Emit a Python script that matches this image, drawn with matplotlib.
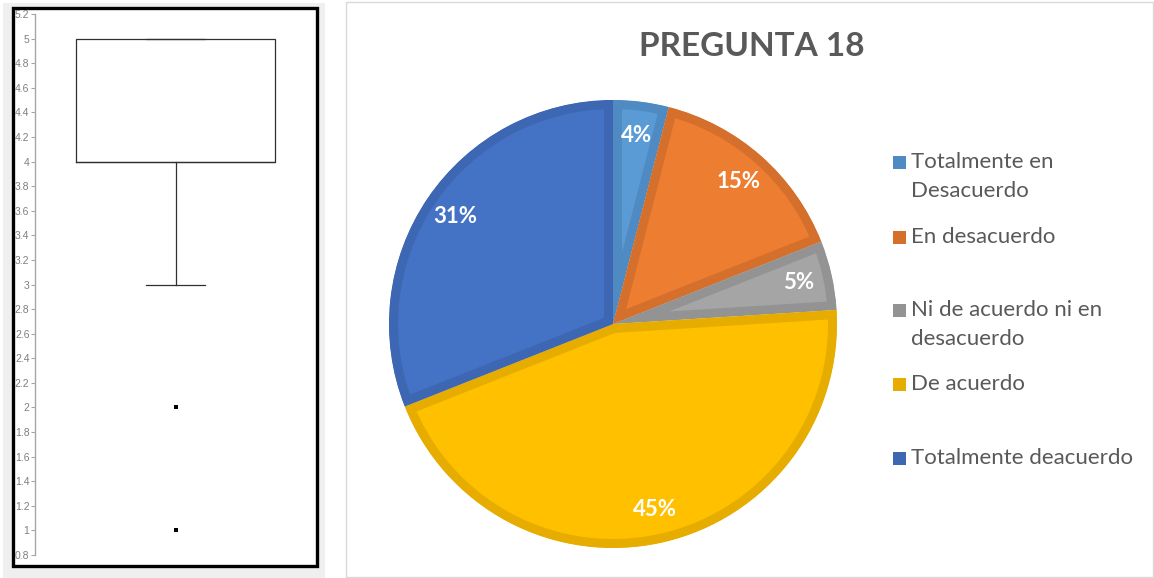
import numpy as np
import matplotlib.pyplot as plt
from matplotlib.patches import Rectangle, Wedge

# Answers to question 18 (1 = totalmente en desacuerdo ... 5 = totalmente de acuerdo)
categories = ['Totalmente en\nDesacuerdo', 'En desacuerdo',
              'Ni de acuerdo ni en\ndesacuerdo', 'De acuerdo',
              'Totalmente deacuerdo']
scores = [1, 2, 3, 4, 5]
percents = [4, 15, 5, 45, 31]

colors = ['#5B9BD5', '#ED7D31', '#A5A5A5', '#FFC000', '#4472C4']
edge_colors = ['#4F8AC2', '#D4702C', '#939393', '#E6AC00', '#3D66B3']

W, H = 1154, 578
fig = plt.figure(figsize=(W / 100, H / 100), dpi=100)


def fx(x):
    return x / W


def fy(y):
    return 1 - y / H


# left panel: gray background and black frame
fig.patches.append(Rectangle((fx(3), 0), fx(325 - 3), (H - 3) / H,
                             transform=fig.transFigure, facecolor='#efefef',
                             edgecolor='none', zorder=-2))
fig.patches.append(Rectangle((fx(13), fy(566)), fx(317 - 13), (566 - 8) / H,
                             transform=fig.transFigure, facecolor='white',
                             edgecolor='black', lw=2.4, zorder=-1))

# right panel: white card with light border
fig.patches.append(Rectangle((fx(346), fy(577)), fx(1153 - 346), (577 - 2) / H,
                             transform=fig.transFigure, facecolor='white',
                             edgecolor='#d9d9d9', lw=1, zorder=-1))

# box plot built from the answers
answers = np.repeat(scores, percents)
ax1 = fig.add_axes([fx(35), fy(555), fx(316 - 35), (555 - 14) / H])
ax1.set_facecolor('none')
ax1.boxplot(answers, positions=[1], widths=0.71, capwidths=0.21,
            boxprops=dict(color='#303030', lw=0.9),
            whiskerprops=dict(color='#303030', lw=0.9),
            capprops=dict(color='#303030', lw=0.9),
            medianprops=dict(color='#303030', lw=0.9),
            flierprops=dict(marker='s', markersize=2.3, markerfacecolor='black',
                            markeredgewidth=0))
ax1.set_xlim(0.5, 1.5)
ax1.set_ylim(0.8, 5.2)
ticks = np.arange(0.8, 5.21, 0.2)
ax1.set_yticks(ticks)
ax1.set_yticklabels([f'{t:g}' for t in np.round(ticks, 1)],
                    fontsize=7.5, color='#7f7f7f', family='Liberation Sans')
ax1.tick_params(axis='y', length=3, width=0.8, color='#a6a6a6', pad=1)
ax1.set_xticks([])
for side in ['top', 'right', 'bottom']:
    ax1.spines[side].set_visible(False)
ax1.spines['left'].set_color('#a6a6a6')
ax1.spines['left'].set_linewidth(1)

# pie chart, each slice with an inner border (stroke clipped to the slice)
R = 224
border = 9  # px
pad = 1.01
ax2 = fig.add_axes([fx(613 - R * pad), fy(324 + R * pad), 2 * R * pad / W, 2 * R * pad / H])
wedges, texts, autotexts = ax2.pie(percents, colors=colors, startangle=90,
                                   counterclock=False, autopct='%1.0f%%',
                                   pctdistance=0.85,
                                   wedgeprops=dict(linewidth=2 * border * 0.72),
                                   textprops=dict(color='white', fontsize=16,
                                                  fontweight='bold', family='Lato'))
for w, ec in zip(wedges, edge_colors):
    w.set_edgecolor(ec)
    clip = Wedge(w.center, w.r, w.theta1, w.theta2, transform=ax2.transData)
    w.set_clip_on(True)
    w.set_clip_path(clip)
ax2.set_xlim(-pad, pad)
ax2.set_ylim(-pad, pad)
ax2.axis('off')

fig.text(fx(752), fy(47), 'PREGUNTA 18', ha='center', va='center',
         fontsize=24, fontweight='bold', color='#595959', family='Lato')

# legend drawn like the spreadsheet one
legend_y = [162, 237, 310, 384, 458]
for label, ec, y0 in zip(categories, edge_colors, legend_y):
    fig.patches.append(Rectangle((fx(893), fy(y0 + 7)), fx(13), 13 / H,
                                 transform=fig.transFigure, facecolor=ec,
                                 edgecolor='none'))
    for i, line in enumerate(label.split('\n')):
        fig.text(fx(911), fy(y0 + i * 29), line, ha='left', va='center',
                 fontsize=16, color='#595959', family='Lato')

fig.savefig('out.png', dpi=100)
